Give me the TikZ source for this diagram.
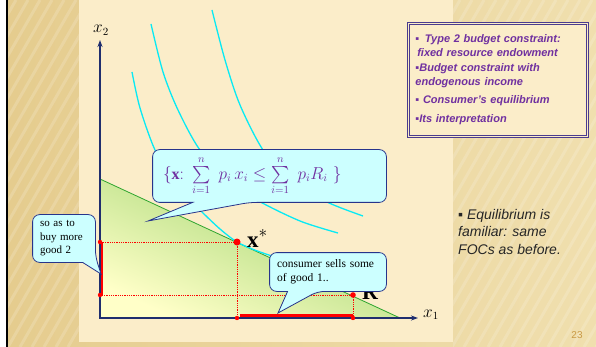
\documentclass[tikz,border=0pt]{standalone}
\usepackage{amsmath}
\usepackage{fontspec}
\setmainfont{Liberation Serif}
\setsansfont{Liberation Sans}
\usetikzlibrary{arrows.meta, positioning, calc}
\definecolor{navy}{HTML}{1F2E6E}
\definecolor{margin}{HTML}{E5CC8E}
\definecolor{marginlight}{HTML}{F0DFAE}
\definecolor{panel}{HTML}{FBEDC9}
\definecolor{bubble}{HTML}{CCFFFF}
\definecolor{bubbleedge}{HTML}{27348B}
\definecolor{topicviolet}{HTML}{7030A0}
\definecolor{boxedge}{HTML}{4B3C8E}
\definecolor{curvecyan}{HTML}{08EAF4}
\definecolor{budgetgreen}{HTML}{2FA52F}
\definecolor{areagreen}{HTML}{9BD26C}
\definecolor{areayellow}{HTML}{FFFFC8}
\definecolor{pagenum}{HTML}{C99A45}

\begin{document}
\begin{tikzpicture}[x=1pt, y=-1pt,
    callout/.style={draw=bubbleedge, fill=bubble, line width=0.8pt},
    calltext/.style={inner xsep=7pt, inner ysep=0pt, align=left, font=\fontsize{11}{13.5}\selectfont},
    indiff/.style={curvecyan, line width=1.3pt},
    axisline/.style={navy, line width=1.3pt, {Stealth[length=7pt, width=5pt]}-{Stealth[length=7pt, width=5pt]}},
    guide/.style={red, densely dotted, line width=0.8pt},
    trade/.style={red, line width=2.8pt},
    stripe/.style={white, opacity=0.16, line width=3pt}
  ]
  % slide background
  \useasboundingbox (0,0) rectangle (596,347);
  \fill[white] (0,0) rectangle (596,347);
  \shade[left color=margin, right color=marginlight] (8,0) rectangle (596,347);
  \begin{scope}
    \clip (8,0) rectangle (79,347) (453,0) rectangle (596,347);
    \foreach \k in {-220,-208,...,600}
      \draw[stripe] (\k,347) -- ++(200,-347);
  \end{scope}
  \fill[panel] (79,0) rectangle (453,342);
  \draw[black, line width=2pt] (7,0) -- (7,347);

  % budget set
  \coordinate (O) at (100,318);
  \coordinate (icpt2) at (100,179);
  \coordinate (icpt1) at (400,318);
  \coordinate (xs) at (237,242);
  \coordinate (R) at (353,295);
  \shade[top color=areagreen, bottom color=areayellow, shading angle=-25] (icpt2) -- (icpt1) -- (O) -- cycle;
  \draw[budgetgreen, line width=0.8pt] (icpt2) -- (icpt1);

  % indifference curves
  \draw[indiff] plot[smooth] coordinates {(132,72) (140,108) (155,150) (175,184) (200,210) (220,229) (237,242) (256,250.5) (275,257)};
  \draw[indiff] plot[smooth] coordinates {(151,24) (163,72) (178,110) (200,150) (230,180) (257,200) (300,221) (338,233)};
  \draw[indiff] plot[smooth] coordinates {(212,10) (225,60) (240,105) (263,150) (290,180) (327,202) (363,216)};

  % optimum and endowment
  \draw[guide] (xs) -- (xs -| O);
  \draw[guide] (xs) -- (xs |- O);
  \draw[guide] (R) -- (R -| O);
  \draw[guide] (R) -- (R |- O);

  % axes
  \coordinate (x1end) at (418,318);
  \coordinate (x2end) at (100,40);
  \draw[axisline] (x2end) -- (O) -- (x1end);
  \node[anchor=base west, inner sep=0, font=\fontsize{16}{16}\selectfont] (x1lab) at (423,317) {$x_1$};
  \node[anchor=base west, inner sep=0, font=\fontsize{16}{16}\selectfont] (x2lab) at (93,33) {$x_2$};

  % traded amounts
  \draw[trade] ($(xs -| O)+(2,0)$) -- ($(R -| O)+(2,0)$);
  \draw[trade] ($(xs |- O)+(3,-2.5)$) -- ($(R |- O)+(0,-2.5)$);
  \fill[red] (xs) circle (3.5);
  \fill[red] (R) circle (2.8);
  \foreach \p in {(xs -| O), (xs |- O), (R -| O), (R |- O)}
    \fill[red] \p circle (2.2);
  \node[anchor=base west, inner sep=0, font=\fontsize{23}{23}\selectfont] (xslab) at (247,247) {\textbf{x}$^{*}$};
  \node[anchor=base west, inner sep=0, font=\fontsize{22}{22}\selectfont\bfseries] (Rlab) at (362,299) {R};

  % callouts
  \coordinate (tipA) at (148,221);
  \draw[callout] node[calltext, text width=213, inner xsep=10pt, minimum height=52, font=\fontsize{16}{19}\selectfont, text=topicviolet] (setbox) at (269.5,176)
      {$\{\mathbf{x}{:}\ \sum\limits_{i=1}^{n}\ p_i\,x_i\le \sum\limits_{i=1}^{n}\ p_iR_i\ \}$}
    [rounded corners=7pt] (setbox.west) -- (setbox.north west) -- (setbox.north east) -- (setbox.south east)
    -- ($(setbox.south west)+(97,0)$) [sharp corners] -- (tipA) -- ($(setbox.south west)+(40,0)$)
    [rounded corners=7pt] -- (setbox.south west) -- cycle;

  \coordinate (tipB) at (101,274);
  \draw[callout] node[calltext, text width=48, minimum height=47] (buybox) at (64,238.5)
      {so as to\\buy more\\good 2}
    [rounded corners=7pt] (buybox.west) -- (buybox.north west) -- (buybox.north east)
    -- ($(buybox.south east)+(0,-6)$) [sharp corners] -- (tipB) -- ($(buybox.south west)+(50,0)$)
    [rounded corners=7pt] -- (buybox.south west) -- cycle;

  \coordinate (tipC) at (278,313);
  \draw[callout] node[calltext, text width=102, minimum height=38, font=\fontsize{11.5}{14}\selectfont] (sellbox) at (328,272)
      {consumer sells some\\of good 1..}
    [rounded corners=7pt] (sellbox.west) -- (sellbox.north west) -- (sellbox.north east) -- (sellbox.south east)
    -- ($(sellbox.south west)+(48,0)$) [sharp corners] -- (tipC) -- ($(sellbox.south west)+(18,0)$)
    [rounded corners=7pt] -- (sellbox.south west) -- cycle;

  % topics and remark
  \node[draw=boxedge, double=panel, double distance=1.3pt, line width=0.9pt, fill=panel,
        minimum width=179, minimum height=113, text width=165, inner xsep=7pt, align=left,
        anchor=north west, text=topicviolet,
        font=\fontsize{11}{14}\selectfont\sffamily\bfseries\itshape] (topics) at (408,23)
    {▪\enspace Type 2 budget constraint:\\
     \,fixed resource endowment\\[1pt]
     ▪Budget constraint with\\
     endogenous income\\[4pt]
     ▪ Consumer's equilibrium\\[5pt]
     ▪Its interpretation};

  \node[anchor=north west, inner sep=0, align=left, text=black!85,
        font=\fontsize{14}{17.5}\selectfont\sffamily\itshape] (remark) at (458,209)
    {▪ Equilibrium is\\familiar: same\\FOCs as before.};

  \node[font=\fontsize{10}{10}\selectfont\sffamily, text=pagenum] (pageno) at (577,335) {23};
\end{tikzpicture}
\end{document}
